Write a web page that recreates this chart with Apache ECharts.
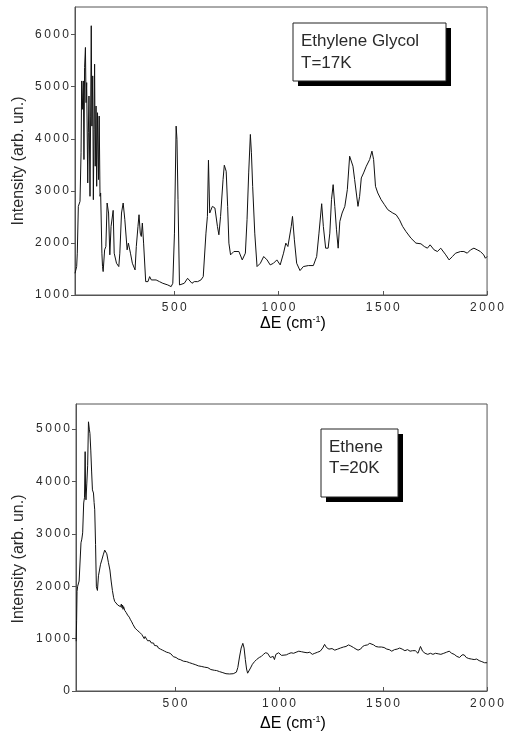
<!DOCTYPE html>
<html><head><meta charset="utf-8">
<script src="https://cdn.jsdelivr.net/npm/echarts@6/dist/echarts.min.js"></script>
<style>html,body{margin:0;padding:0;background:#fff}#c{width:507px;height:733px}</style>
</head><body><div id="c"></div>
<script>
// Top panel: Ethylene Glycol, T=17K
const topX = [24,32,35,40,48,53,56,59,64,67,70,74,77,80,85,88,91,96,99,102,105,109,112,115,118,121,125,128,132,137,140,144,147,153,156,159,166,172,178,185,191,197,207,212,223,234,239,247,255,263,274,280,290,299,312,318,326,331,337,342,347,353,363,374,382,390,398,413,429,445,469,485,493,501,509,513,518,525,532,548,564,572,585,596,612,628,639,652,659,664,670,683,695,707,714,722,734,740,749,756,762,770,786,810,826,841,849,857,865,870,876,886,897,913,929,945,960,976,992,1008,1016,1024,1035,1045,1051,1061,1067,1076,1087,1103,1119,1143,1167,1183,1194,1207,1215,1226,1238,1246,1254,1262,1270,1278,1286,1294,1305,1318,1330,1341,1349,1357,1365,1373,1381,1389,1397,1408,1421,1437,1448,1456,1465,1476,1492,1508,1524,1548,1564,1580,1595,1611,1635,1659,1683,1699,1714,1727,1746,1762,1778,1802,1818,1834,1849,1873,1889,1905,1921,1937,1953,1968,1984,1992,2000];
const topY = [1417,1546,1803,2702,2798,3730,5110,4565,5110,3601,5367,5753,4693,5078,3152,4115,4821,2895,4436,6170,4243,5207,2830,4179,5432,3473,4629,3087,4500,3216,4436,2895,2959,1803,1546,1450,1867,1931,2766,2574,1771,2317,2625,1803,1610,1546,1803,2574,2766,2445,1867,1996,1803,1610,1482,1931,2317,2541,2188,2124,2381,1996,1257,1257,1353,1289,1321,1289,1257,1225,1193,1161,1225,2188,4243,3987,2830,1193,1161,1225,1321,1353,1225,1257,1257,1289,1353,2188,2509,3588,2574,2702,2670,2317,2156,2509,3216,3492,3376,2702,1996,1771,1835,1835,1674,1803,2445,3344,4083,3730,3087,2188,1546,1610,1739,1674,1578,1610,1674,1578,1546,1803,1996,1931,1899,2317,2509,2060,1610,1469,1546,1565,1565,1739,2188,2753,2317,1899,1899,2188,2830,3119,2702,2252,1899,2413,2574,2702,3023,3665,3633,3473,3216,2959,2702,2895,3248,3344,3473,3601,3762,3601,3087,2959,2830,2734,2638,2574,2541,2445,2317,2220,2092,1996,1983,1931,1899,1963,1867,1835,1899,1771,1674,1739,1803,1835,1835,1803,1867,1899,1867,1835,1771,1706,1739];

// Bottom panel: Ethene, T=20K
const botX = [25,27,29,32,35,39,43,48,52,56,61,65,68,70,72,76,80,84,88,91,95,99,103,108,111,114,118,122,127,132,137,142,148,155,162,167,172,180,187,193,199,205,210,218,225,232,238,242,245,248,250,253,255,258,262,265,268,272,275,280,283,286,290,292,295,298,302,305,308,310,314,318,321,325,330,334,337,340,344,348,352,356,360,365,368,372,376,380,385,390,394,397,401,405,410,415,420,425,430,435,440,445,450,455,460,465,470,475,480,485,492,498,505,510,515,520,525,532,540,548,556,563,570,578,585,592,600,608,612,618,626,635,642,650,658,665,672,680,690,700,714,730,745,762,780,795,802,810,818,826,832,838,844,849,856,863,872,882,892,905,915,925,935,945,952,958,965,972,978,985,992,998,1005,1012,1020,1035,1045,1058,1070,1082,1095,1108,1120,1135,1148,1160,1172,1185,1198,1210,1219,1228,1240,1255,1268,1282,1295,1310,1322,1334,1345,1358,1370,1380,1392,1402,1412,1425,1436,1445,1455,1465,1478,1492,1505,1518,1530,1542,1555,1568,1580,1592,1605,1618,1630,1642,1655,1668,1680,1690,1702,1715,1728,1740,1752,1765,1778,1792,1805,1818,1830,1842,1855,1868,1880,1890,1900,1912,1925,1938,1950,1962,1975,1988,2000];
const botY = [950,1350,1900,2000,1990,2100,2080,2830,2900,3020,3590,3700,4570,3800,3650,3970,4300,5140,5000,4920,4600,4200,3840,3780,3600,3460,2800,1990,1920,2200,2310,2420,2500,2600,2690,2680,2620,2450,2310,2100,1920,1780,1710,1680,1640,1620,1610,1660,1590,1640,1560,1610,1580,1540,1570,1500,1480,1450,1460,1410,1420,1360,1350,1320,1300,1270,1280,1250,1200,1230,1170,1160,1190,1150,1120,1110,1130,1080,1100,1060,1000,1040,1010,1020,960,980,950,960,920,930,900,915,870,880,850,860,820,830,800,810,780,785,760,760,740,720,730,700,710,680,655,670,640,630,610,620,600,590,570,580,560,545,540,530,520,510,500,510,480,490,470,465,455,450,445,430,410,400,395,390,370,350,330,325,330,360,450,650,820,910,820,600,420,340,360,440,510,560,600,640,660,700,730,720,720,640,620,660,600,700,720,730,700,680,700,690,710,730,720,740,760,750,740,730,740,700,720,740,760,820,890,830,800,810,780,800,820,840,850,880,860,830,800,780,800,850,870,880,910,930,880,850,840,840,830,800,790,760,790,800,820,800,770,790,760,770,770,720,850,760,720,700,720,700,720,710,700,720,740,760,720,700,660,640,690,690,640,620,610,600,610,580,560,540,540];

const xTicks = [500, 1000, 1500, 2000];
const topYTicks = [1000, 2000, 3000, 4000, 5000, 6000];
const botYTicks = [0, 1000, 2000, 3000, 4000, 5000];

const FONT = "'Liberation Sans', Arial, sans-serif";
const TXT = '#2a2a2a';
const AX = '#555';
const spaced = v => String(v).split('').join('\u2009');

function xAxisCfg(gi) {
  return {
    type: 'value', gridIndex: gi, min: 24, max: 2000,
    axisLine: { show: true, lineStyle: { color: AX, width: 1 } },
    axisTick: { show: true, inside: true, length: 4, customValues: xTicks, lineStyle: { color: AX } },
    axisLabel: { customValues: xTicks, formatter: spaced, color: TXT, fontSize: 12, fontFamily: FONT, margin: 7 },
    splitLine: { show: false }
  };
}
function yAxisCfg(gi, min, max, ticks) {
  return {
    type: 'value', gridIndex: gi, min: min, max: max,
    axisLine: { show: true, lineStyle: { color: AX, width: 1 } },
    axisTick: { show: true, inside: false, length: 4, customValues: ticks, lineStyle: { color: AX } },
    axisLabel: { customValues: ticks, formatter: spaced, color: TXT, fontSize: 12, fontFamily: FONT, margin: 6 },
    splitLine: { show: false }
  };
}

const chart = echarts.init(document.getElementById('c'), null, { renderer: 'canvas' });
const lineStyle = { color: '#111', width: 1 };
const titleRich = {
  a: { fontSize: 16, fontFamily: FONT, color: TXT },
  s: { fontSize: 9, fontFamily: FONT, color: TXT, verticalAlign: 'top', padding: [0, 0, 9, 0] }
};
function legendBox(x, y, w, h, lines, lh) {
  const els = [
    { type: 'rect', shape: { x: x + 5, y: y + 5, width: w, height: h }, style: { fill: '#000' }, z: 10 },
    { type: 'rect', shape: { x: x, y: y, width: w, height: h }, style: { fill: '#fff', stroke: '#222', lineWidth: 1 }, z: 11 }
  ];
  lines.forEach((t, i) => els.push({
    type: 'text', x: x + 8, y: y + 18 + i * lh, z: 12,
    style: { text: t, font: '17px ' + FONT, fill: TXT, textVerticalAlign: 'middle', textAlign: 'left' }
  }));
  return els;
}

chart.setOption({
  animation: false,
  backgroundColor: '#fff',
  grid: [
    { left: 75, right: 17, top: 7, bottom: 438, show: true, borderColor: AX, borderWidth: 1, backgroundColor: 'transparent' },
    { left: 76, right: 18, top: 404, bottom: 42, show: true, borderColor: AX, borderWidth: 1, backgroundColor: 'transparent' }
  ],
  xAxis: [xAxisCfg(0), xAxisCfg(1)],
  yAxis: [yAxisCfg(0, 1000, 6530, topYTicks), yAxisCfg(1, 0, 5480, botYTicks)],
  series: [
    { type: 'line', xAxisIndex: 0, yAxisIndex: 0, showSymbol: false, lineStyle: lineStyle,
      data: topX.map((x, i) => [x, topY[i]]) },
    { type: 'line', xAxisIndex: 1, yAxisIndex: 1, showSymbol: false, lineStyle: lineStyle,
      data: botX.map((x, i) => [x, botY[i]]) }
  ],
  graphic: [
    { type: 'text', x: 19, y: 161, rotation: Math.PI / 2, style: { text: 'Intensity (arb. un.)', font: '16px ' + FONT, fill: TXT, textAlign: 'center', textVerticalAlign: 'middle' } },
    { type: 'text', x: 19, y: 559, rotation: Math.PI / 2, style: { text: 'Intensity (arb. un.)', font: '16px ' + FONT, fill: TXT, textAlign: 'center', textVerticalAlign: 'middle' } },
    { type: 'text', x: 293, y: 324, style: { text: '{a|ΔE (cm}{s|-1}{a|)}', rich: titleRich, textAlign: 'center', textVerticalAlign: 'middle' } },
    { type: 'text', x: 293, y: 724, style: { text: '{a|ΔE (cm}{s|-1}{a|)}', rich: titleRich, textAlign: 'center', textVerticalAlign: 'middle' } }
  ].concat(legendBox(293, 23, 153, 58, ['Ethylene Glycol', 'T=17K'], 22))
   .concat(legendBox(321, 429, 77, 68, ['Ethene', 'T=20K'], 21))
});
</script></body></html>
